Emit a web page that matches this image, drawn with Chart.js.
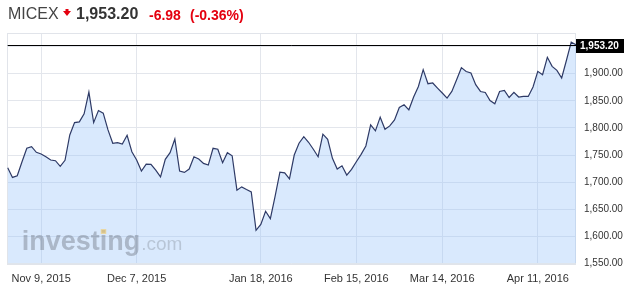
<!DOCTYPE html>
<html>
<head>
<meta charset="utf-8">
<script src="https://cdn.jsdelivr.net/npm/chart.js@4.4.1/dist/chart.umd.min.js"></script>
<style>
  html, body { margin: 0; padding: 0; background: #fff; }
  #wrap { position: relative; width: 640px; height: 301px; overflow: hidden; }
  #chart { position: absolute; left: 0; top: 0; }
  .hd { position: absolute; font-family: "Liberation Sans", Arial, sans-serif; white-space: nowrap; }
  #hdName  { left: 8px;   top: 6px;  font-size: 16px; line-height: 16px; color: #444; }
  #hdArrow { left: 63px;  top: 9px; }
  #hdPrice { left: 76px;  top: 6px;  font-size: 16px; line-height: 16px; color: #333; font-weight: bold; }
  #hdChg   { left: 149px; top: 7.5px; font-size: 14px; line-height: 14px; color: #e4000f; font-weight: bold; }
  #hdPct   { left: 190px; top: 7.5px; font-size: 14px; line-height: 14px; color: #e4000f; font-weight: bold; }
</style>
</head>
<body>
<div id="wrap">
  <canvas id="chart" width="640" height="301"></canvas>
  <span class="hd" id="hdName">MICEX</span>
  <svg class="hd" id="hdArrow" width="8" height="7" viewBox="0 0 8 7"><polygon points="2.5,0 5.5,0 5.5,2 8,2 4,7 0,2 2.5,2" fill="#e4000f"/></svg>
  <span class="hd" id="hdPrice">1,953.20</span>
  <span class="hd" id="hdChg">-6.98</span>
  <span class="hd" id="hdPct">(-0.36%)</span>
</div>
<script>
/* ── DATA ───────────────────────────────────────────────── */
const dates = [
  "2015-10-28","2015-10-29","2015-10-30","2015-11-02","2015-11-03","2015-11-05","2015-11-06",
  "2015-11-09","2015-11-10","2015-11-11","2015-11-12","2015-11-13",
  "2015-11-16","2015-11-17","2015-11-18","2015-11-19","2015-11-20",
  "2015-11-23","2015-11-24","2015-11-25","2015-11-26","2015-11-27",
  "2015-11-30","2015-12-01","2015-12-02","2015-12-03","2015-12-04",
  "2015-12-07","2015-12-08","2015-12-09","2015-12-10","2015-12-11",
  "2015-12-14","2015-12-15","2015-12-16","2015-12-17","2015-12-18",
  "2015-12-21","2015-12-22","2015-12-23","2015-12-24","2015-12-25",
  "2015-12-28","2015-12-29","2015-12-30","2015-12-31",
  "2016-01-05","2016-01-06","2016-01-11","2016-01-12","2016-01-13","2016-01-14","2016-01-15",
  "2016-01-18","2016-01-19","2016-01-20","2016-01-21","2016-01-22",
  "2016-01-25","2016-01-26","2016-01-27","2016-01-28","2016-01-29",
  "2016-02-01","2016-02-02","2016-02-03","2016-02-04","2016-02-05",
  "2016-02-08","2016-02-09","2016-02-10","2016-02-11","2016-02-12",
  "2016-02-15","2016-02-16","2016-02-17","2016-02-18","2016-02-19",
  "2016-02-22","2016-02-24","2016-02-25","2016-02-26",
  "2016-02-29","2016-03-01","2016-03-02","2016-03-03","2016-03-04",
  "2016-03-07","2016-03-09","2016-03-10","2016-03-11",
  "2016-03-14","2016-03-15","2016-03-16","2016-03-17","2016-03-18",
  "2016-03-21","2016-03-22","2016-03-23","2016-03-24","2016-03-25",
  "2016-03-28","2016-03-29","2016-03-30","2016-03-31","2016-04-01",
  "2016-04-04","2016-04-05","2016-04-06","2016-04-07","2016-04-08",
  "2016-04-11","2016-04-12","2016-04-13","2016-04-14","2016-04-15",
  "2016-04-18","2016-04-19","2016-04-20","2016-04-21"
];

const closes = [
  1726.5, 1708.7, 1711.7, 1737.6, 1762.4, 1765.4, 1755.0,
  1751.9, 1746.9, 1740.8, 1739.5, 1729.1,
  1740.2, 1787.0, 1809.8, 1811.1, 1826.0,
  1866.1, 1809.8, 1832.1, 1827.2, 1796.3,
  1771.7, 1772.8, 1770.4, 1786.5, 1756.1,
  1740.8, 1720.4, 1733.3, 1732.8, 1722.2,
  1709.8, 1742.0, 1754.3, 1779.6, 1720.4,
  1718.0, 1724.1, 1746.9, 1742.6, 1734.6,
  1731.5, 1762.4, 1760.6, 1735.8,
  1754.3, 1748.7, 1685.2, 1691.3, 1686.5, 1682.0, 1611.1,
  1622.2, 1646.3, 1632.8, 1674.1, 1718.5,
  1717.2, 1706.1, 1750.0, 1771.7, 1783.9,
  1773.5, 1760.6, 1746.9, 1788.4, 1779.1,
  1743.9, 1724.1, 1730.2, 1713.0, 1723.5,
  1737.6, 1751.3, 1766.7, 1805.6, 1794.5,
  1819.8, 1797.6, 1803.7, 1814.8,
  1837.6, 1842.6, 1833.4, 1856.9, 1876.5,
  1907.4, 1881.5, 1882.8, 1873.5,
  1864.3, 1855.0, 1867.2, 1888.9, 1911.1,
  1904.0, 1901.3, 1879.7, 1867.2, 1865.4,
  1850.6, 1844.5, 1867.2, 1869.1, 1856.1,
  1865.4, 1856.9, 1858.0, 1858.0, 1875.4,
  1904.3, 1898.2, 1930.2, 1913.5, 1906.1,
  1892.1, 1924.7, 1958.0, 1953.2
];

const xTickDates  = ["2015-11-09", "2015-12-07", "2016-01-18", "2016-02-15", "2016-03-14", "2016-04-11"];
const xTickLabels = ["Nov 9, 2015", "Dec 7, 2015", "Jan 18, 2016", "Feb 15, 2016", "Mar 14, 2016", "Apr 11, 2016"];
const yTickValues = [1550, 1600, 1650, 1700, 1750, 1800, 1850, 1900];
const lastPrice   = 1953.20;

/* ── HELPERS ────────────────────────────────────────────── */
const FONT = "'Liberation Sans', Arial, sans-serif";
const fmt = v => v.toLocaleString("en-US", { minimumFractionDigits: 2, maximumFractionDigits: 2 });

/* ── PLUGIN: frame, watermark, last-price line ──────────── */
const decor = {
  id: "decor",
  beforeDatasetsDraw(chart) {
    const { ctx, chartArea: a } = chart;
    ctx.save();
    ctx.strokeStyle = "#e1e4ea";
    ctx.lineWidth = 1;
    ctx.strokeRect(Math.round(a.left) - 0.5, Math.round(a.top) + 0.5, Math.round(a.right - a.left), Math.round(a.bottom - a.top));
    ctx.restore();
  },
  afterDatasetsDraw(chart) {
    const { ctx, chartArea: a } = chart;
    ctx.save();
    // watermark
    const wx = a.left + 14, wy = 250;
    ctx.textBaseline = "alphabetic";
    ctx.font = "bold 27px " + FONT;
    ctx.fillStyle = "rgba(90,95,105,0.36)";
    ctx.fillText("investing", wx, wy);
    const w = ctx.measureText("investing").width;
    const dotX = wx + ctx.measureText("invest").width;
    const iw = ctx.measureText("i").width;
    ctx.fillStyle = "rgba(245,200,90,0.55)";
    ctx.fillRect(dotX + 1, wy - 21, iw - 2, 5);
    ctx.font = "19px " + FONT;
    ctx.fillStyle = "rgba(90,95,105,0.26)";
    ctx.fillText(".com", wx + w + 1, wy);

    // last price line
    const y = Math.round(chart.scales.y.getPixelForValue(lastPrice)) + 0.5;
    ctx.strokeStyle = "#000";
    ctx.lineWidth = 1;
    ctx.beginPath();
    ctx.moveTo(a.left, y);
    ctx.lineTo(a.right, y);
    ctx.stroke();
    ctx.restore();
  },
  afterDraw(chart) {
    const { ctx, chartArea: a } = chart;
    const y = Math.round(chart.scales.y.getPixelForValue(lastPrice));
    ctx.save();
    ctx.fillStyle = "#000";
    ctx.fillRect(a.right, y - 6, 48, 14);
    ctx.fillStyle = "#fff";
    ctx.font = "bold 10px " + FONT;
    ctx.textBaseline = "middle";
    ctx.fillText(fmt(lastPrice), a.right + 4, y + 1.5);
    ctx.restore();
  }
};

/* ── CHART ──────────────────────────────────────────────── */
new Chart(document.getElementById("chart"), {
  type: "line",
  data: {
    labels: dates,
    datasets: [{
      data: closes,
      borderColor: "#2e3a66",
      borderWidth: 1.2,
      backgroundColor: "rgba(150,195,250,0.36)",
      fill: "start",
      pointRadius: 0,
      tension: 0
    }]
  },
  options: {
    responsive: false,
    animation: false,
    events: [],
    layout: { padding: { left: 7.7, right: 0, top: 33, bottom: 6.3 } },
    plugins: { legend: { display: false }, tooltip: { enabled: false } },
    scales: {
      x: {
        type: "category",
        offset: false,
        border: { display: false },
        grid: { color: "#e3e6ec", drawTicks: false },
        ticks: {
          autoSkip: false,
          maxRotation: 0,
          padding: 9,
          color: "#333",
          font: { family: FONT, size: 11 },
          callback(v) {
            const i = xTickDates.indexOf(this.getLabelForValue(v));
            return i >= 0 ? xTickLabels[i] : null;
          }
        }
      },
      y: {
        position: "right",
        min: 1550,
        max: 1975,
        border: { display: false },
        grid: { color: "#e3e6ec", drawTicks: false },
        afterFit(s) { s.width = 64; },
        ticks: {
          stepSize: 50,
          padding: 8,
          color: "#333",
          font: { family: FONT, size: 10 },
          callback: v => yTickValues.includes(v) ? fmt(v) : ""
        }
      }
    }
  },
  plugins: [decor]
});
</script>
</body>
</html>
